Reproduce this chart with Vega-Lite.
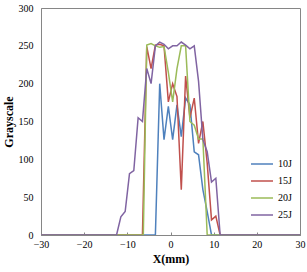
{
  "$schema": "https://vega.github.io/schema/vega-lite/v6.json",
  "autosize": {"type": "none"},
  "width": 259,
  "height": 227,
  "padding": {"left": 41, "top": 8, "right": 7, "bottom": 37},
  "background": "white",
  "config": {
    "view": {"stroke": "#868686", "strokeWidth": 1},
    "font": "Liberation Serif"
  },
  "data": {
    "values": [
      {"s": "10J", "x": -30, "y": 0},
      {"s": "10J", "x": -3.5, "y": 0},
      {"s": "10J", "x": -2.5, "y": 200},
      {"s": "10J", "x": -1.5, "y": 126},
      {"s": "10J", "x": -0.5, "y": 170},
      {"s": "10J", "x": 0.5, "y": 126},
      {"s": "10J", "x": 1.5, "y": 172},
      {"s": "10J", "x": 2.5, "y": 130},
      {"s": "10J", "x": 3.5, "y": 181},
      {"s": "10J", "x": 4.5, "y": 172},
      {"s": "10J", "x": 5.5, "y": 110},
      {"s": "10J", "x": 6.5, "y": 106},
      {"s": "10J", "x": 7.5, "y": 60},
      {"s": "10J", "x": 8.5, "y": 31},
      {"s": "10J", "x": 9.5, "y": 0},
      {"s": "10J", "x": 30, "y": 0},
      {"s": "15J", "x": -30, "y": 0},
      {"s": "15J", "x": -6.5, "y": 0},
      {"s": "15J", "x": -5.5, "y": 249},
      {"s": "15J", "x": -4.5, "y": 220},
      {"s": "15J", "x": -3.5, "y": 251},
      {"s": "15J", "x": -2.5, "y": 252},
      {"s": "15J", "x": -1.5, "y": 250},
      {"s": "15J", "x": -0.5, "y": 176},
      {"s": "15J", "x": 0.5, "y": 200},
      {"s": "15J", "x": 1.5, "y": 183},
      {"s": "15J", "x": 2.5, "y": 60},
      {"s": "15J", "x": 3.5, "y": 210},
      {"s": "15J", "x": 4.5, "y": 155},
      {"s": "15J", "x": 5.5, "y": 181},
      {"s": "15J", "x": 6.5, "y": 121},
      {"s": "15J", "x": 7.5, "y": 150},
      {"s": "15J", "x": 8.5, "y": 95},
      {"s": "15J", "x": 9.5, "y": 20},
      {"s": "15J", "x": 10.5, "y": 25},
      {"s": "15J", "x": 11.5, "y": 0},
      {"s": "15J", "x": 30, "y": 0},
      {"s": "20J", "x": -30, "y": 0},
      {"s": "20J", "x": -6.3, "y": 0},
      {"s": "20J", "x": -5.5, "y": 251},
      {"s": "20J", "x": -4.5, "y": 253},
      {"s": "20J", "x": -3.5, "y": 250},
      {"s": "20J", "x": -2.5, "y": 248},
      {"s": "20J", "x": -1.5, "y": 249},
      {"s": "20J", "x": -0.5, "y": 215},
      {"s": "20J", "x": 0.5, "y": 176},
      {"s": "20J", "x": 1.5, "y": 220},
      {"s": "20J", "x": 2.5, "y": 250},
      {"s": "20J", "x": 3.5, "y": 250},
      {"s": "20J", "x": 4.5, "y": 150},
      {"s": "20J", "x": 5.5, "y": 145},
      {"s": "20J", "x": 6.5, "y": 127},
      {"s": "20J", "x": 7.5, "y": 127},
      {"s": "20J", "x": 8.5, "y": 0},
      {"s": "20J", "x": 30, "y": 0},
      {"s": "25J", "x": -30, "y": 0},
      {"s": "25J", "x": -12.5, "y": 0},
      {"s": "25J", "x": -11.5, "y": 24},
      {"s": "25J", "x": -10.5, "y": 31},
      {"s": "25J", "x": -9.5, "y": 81},
      {"s": "25J", "x": -8.5, "y": 85},
      {"s": "25J", "x": -7.5, "y": 155},
      {"s": "25J", "x": -6.5, "y": 150},
      {"s": "25J", "x": -5.5, "y": 220},
      {"s": "25J", "x": -4.5, "y": 200},
      {"s": "25J", "x": -3.5, "y": 250},
      {"s": "25J", "x": -2.5, "y": 255},
      {"s": "25J", "x": -1.5, "y": 252},
      {"s": "25J", "x": -0.5, "y": 246},
      {"s": "25J", "x": 0.5, "y": 250},
      {"s": "25J", "x": 1.5, "y": 250},
      {"s": "25J", "x": 2.5, "y": 255},
      {"s": "25J", "x": 3.5, "y": 251},
      {"s": "25J", "x": 4.5, "y": 246},
      {"s": "25J", "x": 5.5, "y": 250},
      {"s": "25J", "x": 6.5, "y": 203},
      {"s": "25J", "x": 7.5, "y": 126},
      {"s": "25J", "x": 8.5, "y": 110},
      {"s": "25J", "x": 9.5, "y": 70},
      {"s": "25J", "x": 10.5, "y": 75},
      {"s": "25J", "x": 11.5, "y": 0},
      {"s": "25J", "x": 30, "y": 0}
    ]
  },
  "mark": {"type": "line", "strokeWidth": 1.5, "clip": true},
  "encoding": {
    "x": {
      "field": "x", "type": "quantitative",
      "scale": {"domain": [-30, 30], "nice": false, "zero": false},
      "axis": {
        "values": [-30, -20, -10, 0, 10, 20, 30],
        "title": "X(mm)", "titleFontSize": 12, "titleFontWeight": "bold", "titlePadding": 4,
        "labelFontSize": 10, "labelPadding": 7, "labelColor": "black",
        "grid": false, "domainColor": "#868686", "tickColor": "#868686", "tickSize": -3,
        "labelFlush": false
      }
    },
    "y": {
      "field": "y", "type": "quantitative",
      "scale": {"domain": [0, 300], "nice": false},
      "axis": {
        "values": [0, 50, 100, 150, 200, 250, 300],
        "title": "Grayscale", "titleFontSize": 12, "titleFontWeight": "bold", "titlePadding": 3,
        "labelFontSize": 10, "labelPadding": 8, "labelColor": "black",
        "grid": false, "domainColor": "#868686", "ticks": false,
        "labelFlush": false
      }
    },
    "color": {
      "field": "s", "type": "nominal",
      "scale": {"domain": ["10J", "15J", "20J", "25J"], "range": ["#4F81BD", "#C0504D", "#9BBB59", "#8064A2"]},
      "legend": {
        "title": null, "orient": "none", "legendX": 209, "legendY": 144,
        "symbolType": "stroke", "symbolSize": 484, "symbolStrokeWidth": 1.5,
        "labelFontSize": 10, "labelOffset": 4, "rowPadding": -2, "labelColor": "black"
      }
    }
  }
}
